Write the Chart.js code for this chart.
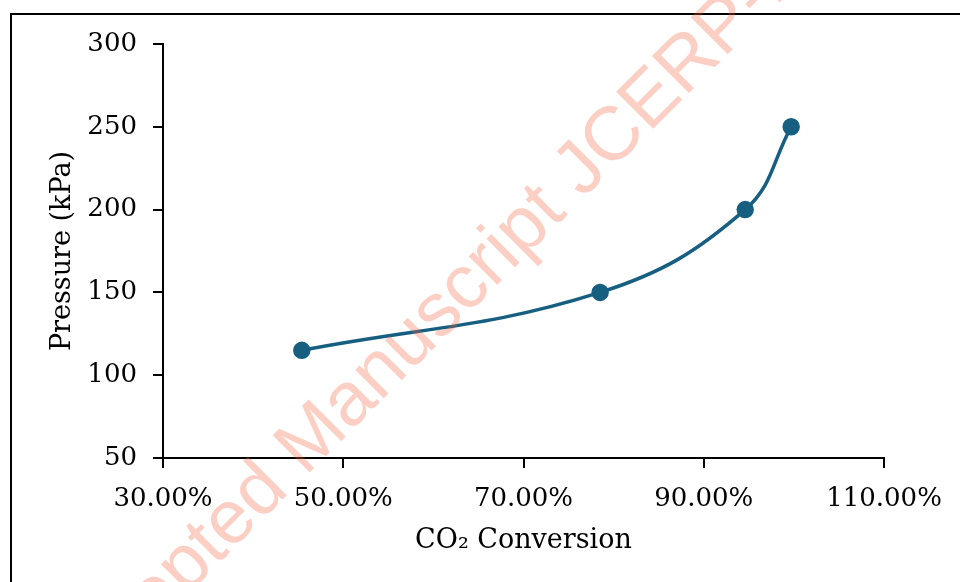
<!DOCTYPE html>
<html>
<head>
<meta charset="utf-8">
<script src="https://cdn.jsdelivr.net/npm/chart.js@4/dist/chart.umd.min.js"></script>
<style>
  html, body { margin:0; padding:0; background:#fff; }
  #wrap { position:relative; width:960px; height:582px; }
</style>
</head>
<body>
<div id="wrap"><canvas id="c"></canvas></div>
<script>
// values
const conversion = [45.4, 78.5, 94.6, 99.7];   // CO2 conversion, %
const pressure   = [115, 150, 200, 250];       // kPa
const xTicks = [30, 50, 70, 90, 110];
const yTicks = [50, 100, 150, 200, 250, 300];

const lineColor = '#165f80';
const serif = '"DejaVu Serif", "Liberation Serif", serif';

// outer frame of the figure (only top and left show in the crop)
const framePlugin = {
  id:'frame',
  beforeDraw(chart){
    const ctx = chart.ctx;
    ctx.save();
    ctx.strokeStyle = '#000';
    ctx.lineWidth = 2;
    ctx.beginPath();
    ctx.moveTo(11, 600);
    ctx.lineTo(11, 14);
    ctx.lineTo(980, 14);
    ctx.stroke();
    ctx.restore();
  }
};

// journal watermark drawn over the chart
const watermarkPlugin = {
  id:'watermark',
  afterDraw(chart){
    const ctx = chart.ctx;
    ctx.save();
    ctx.translate(583, 199);
    ctx.rotate(-Math.PI/4);
    ctx.font = '76px "Liberation Sans", Arial, sans-serif';
    ctx.fillStyle = 'rgba(245, 95, 60, 0.3)';
    ctx.textBaseline = 'alphabetic';
    ctx.textAlign = 'right';
    ctx.fillText('Accepted Manuscript ', 0, 0);
    ctx.textAlign = 'left';
    ctx.fillText('JCERP-2024', 0, 0);
    ctx.restore();
  }
};

new Chart(document.getElementById('c'), {
  type:'line',
  data:{
    datasets:[{
      data: conversion.map((x,i)=>({x, y: pressure[i]})),
      borderColor: lineColor,
      backgroundColor: lineColor,
      pointBackgroundColor: lineColor,
      pointBorderColor: lineColor,
      borderWidth: 3.5,
      pointRadius: 7,
      tension: 0.4
    }]
  },
  options:{
    responsive:true,
    maintainAspectRatio:false,
    animation:false,
    layout:{ padding:{ left:0, top:44, right:76, bottom:0 } },
    plugins:{ legend:{display:false}, tooltip:{enabled:false} },
    scales:{
      x:{
        type:'linear',
        min: xTicks[0], max: xTicks[xTicks.length-1],
        afterBuildTicks(s){ s.ticks = xTicks.map(v=>({value:v})); },
        afterFit(s){ s.height = 124; },
        grid:{ drawOnChartArea:false, drawTicks:true, tickLength:10, color:'#000', lineWidth:2 },
        border:{ display:true, color:'#000', width:2 },
        ticks:{ color:'#000', font:{family:serif, size:26}, padding:16, maxRotation:0,
                callback: v => v.toFixed(2) + '%' },
        title:{ display:true, text:'CO₂ Conversion', color:'#000',
                font:{family:serif, size:27}, padding:{top:0, bottom:25} }
      },
      y:{
        min: yTicks[0], max: yTicks[yTicks.length-1],
        afterBuildTicks(s){ s.ticks = yTicks.map(v=>({value:v})); },
        afterFit(s){ s.width = 163; },
        grid:{ drawOnChartArea:false, drawTicks:true, tickLength:10, color:'#000', lineWidth:2 },
        border:{ display:true, color:'#000', width:2 },
        ticks:{ color:'#000', font:{family:serif, size:26}, padding:16 },
        title:{ display:true, text:'Pressure (kPa)', color:'#000',
                font:{family:serif, size:27}, padding:{top:47, bottom:0} }
      }
    }
  },
  plugins:[framePlugin, watermarkPlugin]
});
</script>
</body>
</html>
